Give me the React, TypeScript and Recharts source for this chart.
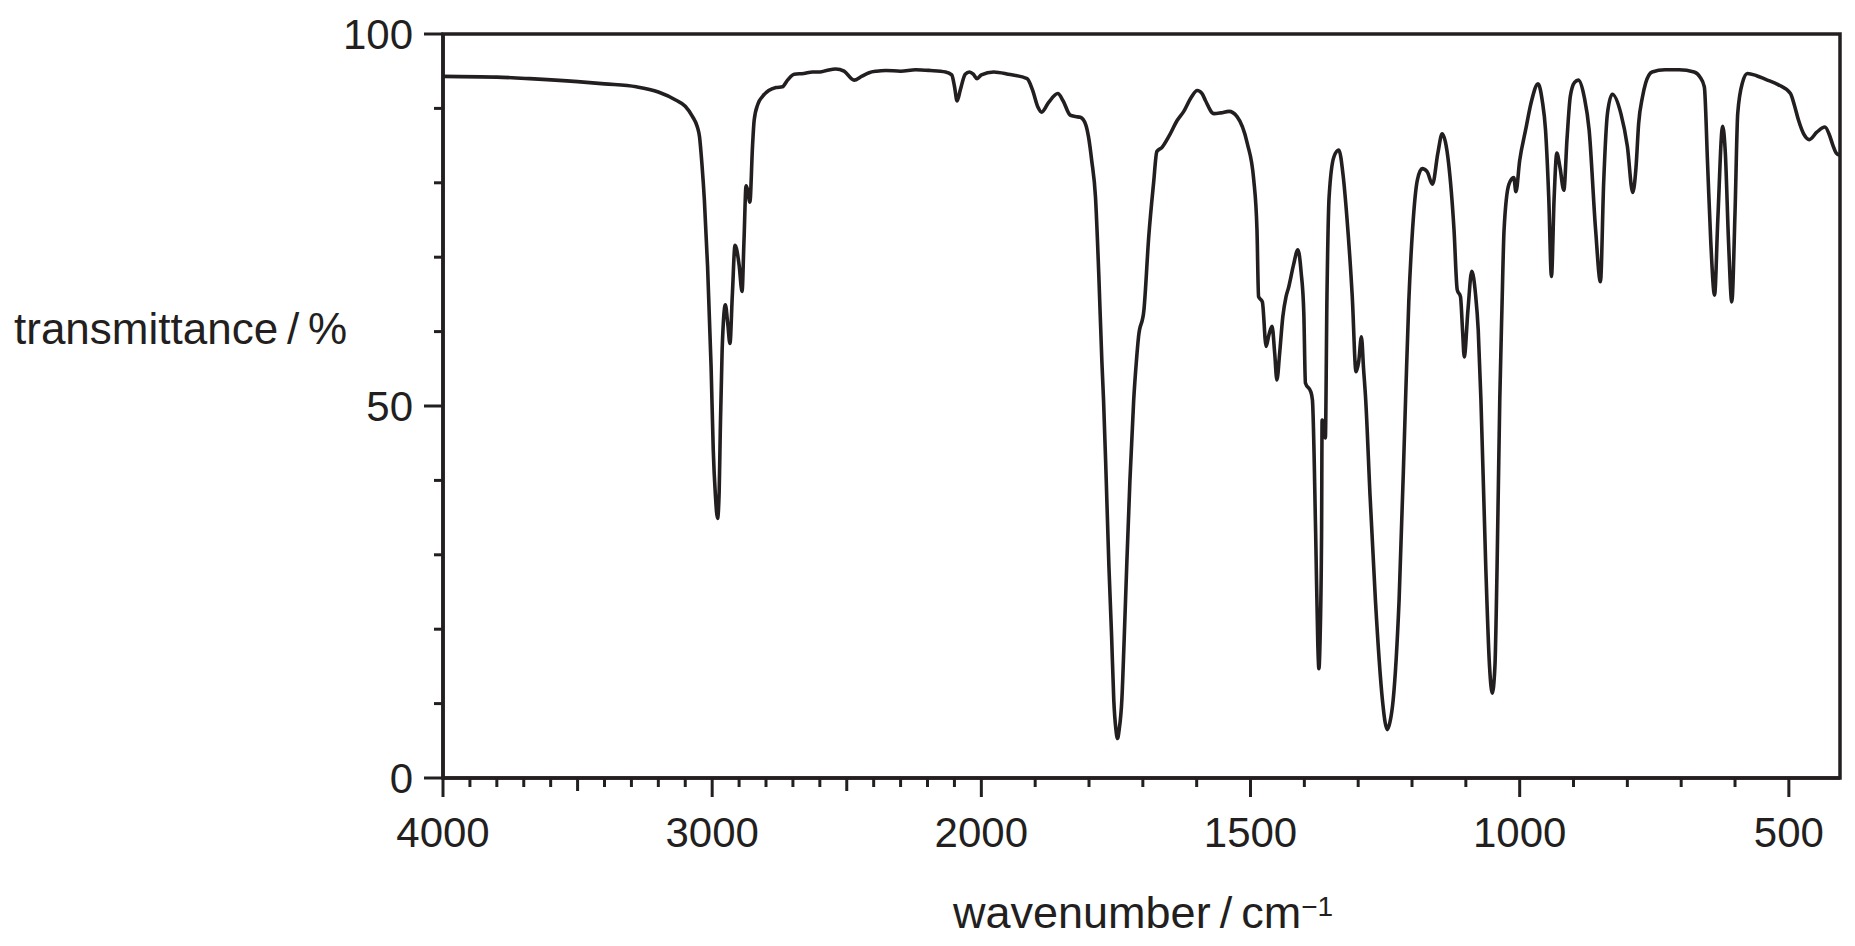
import { LineChart, Line, XAxis, YAxis, ReferenceArea } from "recharts";

// IR spectrum
const wavenumbers = [
  4000, 3800, 3678, 3500, 3400, 3282, 3200, 3134, 3100, 3073, 3055, 3047, 3038, 3029, 3017, 3004,
  2996, 2988, 2980, 2974, 2970, 2963, 2951, 2942, 2934, 2925, 2915, 2900, 2889, 2882, 2874, 2868,
  2860, 2850, 2844, 2830, 2813, 2790, 2763, 2739, 2720, 2695, 2660, 2627, 2600, 2575, 2541, 2510,
  2473, 2445, 2417, 2390, 2355, 2300, 2244, 2190, 2133, 2110, 2100, 2090, 2078, 2060, 2044, 2030,
  2016, 2000, 1977, 1950, 1915, 1905, 1895, 1888, 1875, 1858, 1848, 1835, 1825, 1816, 1806, 1801,
  1795, 1788, 1782, 1776, 1773, 1768, 1763, 1758, 1754, 1750, 1747, 1744, 1739, 1735, 1730, 1724,
  1717, 1712, 1708, 1698, 1689, 1680, 1674, 1664, 1652, 1636, 1624, 1610, 1599, 1590, 1584, 1568,
  1555, 1540, 1525, 1506, 1494, 1488, 1485, 1478, 1471, 1466, 1460, 1455, 1451, 1446, 1440, 1434,
  1429, 1420, 1412, 1406, 1401, 1398, 1388, 1385, 1379, 1375, 1373, 1371, 1368, 1367, 1364, 1361,
  1358, 1354, 1345, 1336, 1328, 1321, 1311, 1304, 1299, 1294, 1290, 1286, 1278, 1268, 1255, 1250,
  1246, 1241, 1235, 1224, 1212, 1206, 1199, 1190, 1181, 1172, 1162, 1152, 1144, 1138, 1132, 1122,
  1116, 1110, 1106, 1103, 1096, 1089, 1082, 1077, 1072, 1063, 1056, 1051, 1046, 1042, 1037, 1033,
  1029, 1020, 1011, 1007, 1000, 989, 978, 966, 958, 952, 946, 941, 936, 931, 925, 918,
  912, 906, 898, 891, 880, 871, 859, 850, 844, 837, 828, 812, 800, 790, 784, 779,
  772, 766, 754, 730, 704, 676, 665, 657, 651, 645, 638, 632, 623, 618, 612, 606,
  600, 595, 586, 577, 560, 543, 520, 497, 490, 482, 472, 462, 448, 433, 425, 418,
  412, 405,
];

const transmittance = [
  94.3, 94.2, 94.0, 93.6, 93.3, 92.9, 92.2, 91.1, 90.3, 88.9, 87.5, 86.2, 82.5, 77.7, 68.7, 55.3,
  44.1, 38.0, 34.9, 38.5, 46.3, 57.5, 63.6, 61.0, 58.4, 65.0, 71.6, 69.0, 65.4, 72.0, 79.6, 79.0,
  77.4, 85.0, 88.4, 90.6, 91.6, 92.4, 92.8, 92.9, 93.8, 94.6, 94.7, 94.9, 94.9, 95.1, 95.3, 95.0,
  93.8, 94.3, 94.8, 95.0, 95.1, 95.0, 95.2, 95.1, 94.9, 94.5, 93.0, 91.0, 92.5, 94.6, 94.9, 94.6,
  94.0, 94.5, 94.9, 94.6, 94.0, 92.5, 90.2, 89.5, 90.8, 92.0, 91.0, 89.1, 88.9, 88.8, 87.8, 86.2,
  83.0, 78.1, 68.0, 55.8, 50.8, 40.0, 28.4, 19.0, 10.5, 6.5, 5.3, 6.5, 10.5, 18.0, 28.4, 40.0,
  50.8, 56.0, 59.3, 62.9, 72.8, 80.0, 84.2, 84.8, 86.2, 88.4, 89.6, 91.5, 92.4, 92.0, 91.1, 89.3,
  89.4, 89.6, 88.9, 85.3, 80.4, 73.7, 64.7, 64.0, 58.0, 59.5, 60.7, 57.0, 53.5, 57.0, 62.0, 64.7,
  66.0, 69.0, 71.0, 68.0, 62.5, 53.1, 51.9, 50.8, 32.9, 18.0, 14.7, 18.0, 32.9, 48.1, 47.5, 45.7,
  64.7, 78.1, 83.5, 84.4, 81.0, 75.4, 64.7, 54.6, 56.0, 59.3, 55.0, 50.8, 38.0, 23.9, 10.5, 7.5,
  6.5, 7.5, 10.5, 23.9, 50.8, 64.0, 73.7, 80.4, 81.9, 81.5, 79.8, 84.0, 86.6, 85.5, 82.6, 73.7,
  65.6, 64.7, 60.0, 56.6, 63.0, 68.1, 65.0, 60.2, 50.8, 28.4, 15.0, 11.4, 15.0, 28.4, 50.8, 63.0,
  73.7, 79.8, 80.7, 78.8, 83.0, 87.1, 91.0, 93.3, 91.0, 87.1, 78.0, 67.4, 78.0, 84.0, 82.0, 79.0,
  86.0, 91.6, 93.5, 93.8, 91.5, 87.1, 73.7, 66.7, 80.0, 89.3, 91.9, 89.3, 84.9, 78.7, 82.0, 88.0,
  91.5, 93.4, 94.9, 95.2, 95.2, 94.9, 94.2, 92.9, 82.6, 72.0, 64.9, 75.0, 87.6, 84.0, 72.0, 64.0,
  76.0, 89.3, 93.5, 94.7, 94.4, 93.9, 93.2, 92.0, 90.5, 88.4, 86.5, 85.8, 86.8, 87.5, 86.5, 85.0,
  84.0, 83.7,
];

const xTickValues = [
  4000, 3900, 3800, 3700, 3600, 3500, 3400, 3300, 3200, 3100, 3000, 2900, 2800, 2700, 2600, 2500,
  2400, 2300, 2200, 2100, 2000, 1900, 1800, 1700, 1600, 1500, 1400, 1300, 1200, 1100, 1000, 900,
  800, 700, 600, 500,
];
const xLabelled = [4000, 3000, 2000, 1500, 1000, 500];
const xMidTicks = [3500, 2500];
const yTickValues = [0, 10, 20, 30, 40, 50, 60, 70, 80, 90, 100];
const yLabelled = [0, 50, 100];

const INK = "#231f20";
const LOW_END = 405;
const FONT = "Liberation Sans, Arial, sans-serif";

// the axis is compressed by 2 above 2000 cm-1
const toAxis = (w: number) => (w >= 2000 ? (4000 - w) / 2 : 1000 + (2000 - w));
const fromAxis = (t: number) => (t <= 1000 ? 4000 - 2 * t : 2000 - (t - 1000));

const data = wavenumbers.map((w, i) => ({ t: toAxis(w), value: transmittance[i] }));

// plot box edges (chart coords)
const PLOT_TOP = 26;
const PLOT_LEFT = 435;
const PLOT_BOTTOM = 770;

function XTick(props: any) {
  const { x, payload } = props;
  const y = PLOT_BOTTOM;
  const w = Math.round(fromAxis(payload.value));
  const major = xLabelled.includes(w);
  const len = major ? 19 : xMidTicks.includes(w) ? 13 : 9;
  return (
    <g>
      <line x1={x} x2={x} y1={y} y2={y + len} stroke={INK} strokeWidth={3} />
      {major && (
        <text x={x} y={y + 69} textAnchor="middle" fontFamily={FONT} fontSize={42} fill={INK}>
          {w}
        </text>
      )}
    </g>
  );
}

function YTick(props: any) {
  const { y, payload } = props;
  const x = PLOT_LEFT;
  const major = yLabelled.includes(payload.value);
  const len = major ? 19 : 9;
  return (
    <g>
      <line x1={x} x2={x - len} y1={y} y2={y} stroke={INK} strokeWidth={3} />
      {major && (
        <text x={x - 30} y={y + 15} textAnchor="end" fontFamily={FONT} fontSize={42} fill={INK}>
          {payload.value}
        </text>
      )}
    </g>
  );
}

export default function App() {
  return (
    <div style={{ position: "relative", width: 1847, height: 938, background: "#fff" }}>
      <LineChart
        width={1847}
        height={938}
        data={data}
        margin={{ top: PLOT_TOP, right: 15, left: PLOT_LEFT - 80, bottom: 938 - PLOT_BOTTOM - 100 }}
      >
        <XAxis
          type="number"
          dataKey="t"
          domain={[0, toAxis(LOW_END)]}
          ticks={xTickValues.map(toAxis)}
          interval={0}
          height={100}
          tickLine={false}
          axisLine={{ stroke: INK, strokeWidth: 3.5 }}
          tick={<XTick />}
          allowDataOverflow
        />
        <YAxis
          type="number"
          domain={[0, 100]}
          ticks={yTickValues}
          interval={0}
          width={80}
          tickLine={false}
          axisLine={{ stroke: INK, strokeWidth: 3.5 }}
          tick={<YTick />}
        />
        <ReferenceArea
          x1={0}
          x2={toAxis(LOW_END)}
          y1={0}
          y2={100}
          fill="none"
          stroke={INK}
          strokeWidth={3.5}
        />
        <Line
          type="monotone"
          dataKey="value"
          stroke={INK}
          strokeWidth={3.6}
          dot={false}
          activeDot={false}
          isAnimationActive={false}
        />
      </LineChart>
      <div
        style={{
          position: "absolute",
          left: 6,
          top: 296,
          fontFamily: FONT,
          fontSize: 44,
          lineHeight: "50px",
          color: INK,
          whiteSpace: "nowrap",
        }}
      >
        transmittance{"\u2009/\u2009"}%
      </div>
      <div
        style={{
          position: "absolute",
          left: 945,
          top: 880,
          fontFamily: FONT,
          fontSize: 45,
          lineHeight: "50px",
          color: INK,
          whiteSpace: "nowrap",
        }}
      >
        wavenumber{"\u2009/\u2009"}cm
        <sup style={{ fontSize: 28, verticalAlign: "top", position: "relative", top: -6 }}>−1</sup>
      </div>
    </div>
  );
}
